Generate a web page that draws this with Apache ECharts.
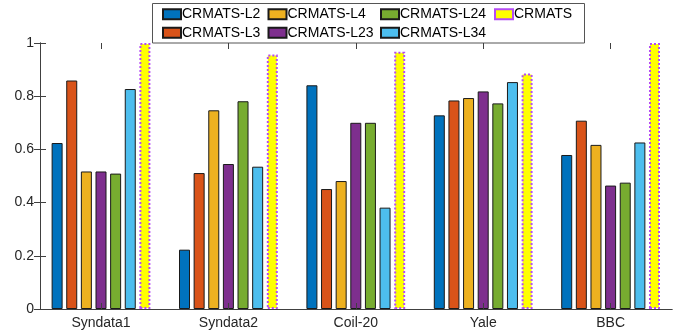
<!DOCTYPE html>
<html>
<head>
<meta charset="utf-8">
<script src="https://cdn.jsdelivr.net/npm/echarts@6/dist/echarts.min.js"></script>
<style>
html,body{margin:0;padding:0;background:#fff;}
#c{width:689px;height:335px;}
</style>
</head>
<body>
<div id="c"></div>
<script>
const categories = ['Syndata1', 'Syndata2', 'Coil-20', 'Yale', 'BBC'];
const seriesNames = ['CRMATS-L2', 'CRMATS-L3', 'CRMATS-L4', 'CRMATS-L23', 'CRMATS-L24', 'CRMATS-L34', 'CRMATS'];
const L2 = [0.624, 0.223, 0.841, 0.728, 0.579];
const L3 = [0.859, 0.511, 0.451, 0.784, 0.708];
const L4 = [0.517, 0.747, 0.481, 0.793, 0.617];
const L23 = [0.517, 0.545, 0.700, 0.818, 0.464];
const L24 = [0.509, 0.781, 0.700, 0.773, 0.475];
const L34 = [0.827, 0.535, 0.381, 0.853, 0.626];
const CRMATS = [1.0, 0.957, 0.967, 0.885, 1.0];
const yTicks = [0, 0.2, 0.4, 0.6, 0.8, 1];

const values = [L2, L3, L4, L23, L24, L34, CRMATS];
const colors = ['#0072BD', '#D95319', '#EDB120', '#7E2F8E', '#77AC30', '#4DBEEE', '#FFFF00'];
const font = 'Liberation Sans, Arial, Helvetica, sans-serif';
const textColor = '#262626';
const lineColor = '#404040';

const series = values.map((v, i) => {
  const last = i === values.length - 1;
  return {
    name: seriesNames[i],
    type: 'bar',
    xAxisIndex: 2,
    yAxisIndex: 2,
    data: v,
    barWidth: 11,
    barGap: '33%',
    animation: false,
    itemStyle: last ? {
      color: colors[i], borderColor: '#b44cf5', borderWidth: 2, borderType: 'dotted'
    } : {
      color: colors[i], borderColor: '#1a1a1a', borderWidth: 1
    },
    emphasis: { disabled: true }
  };
});

const legendCols = [
  { left: 162, data: ['CRMATS-L2', 'CRMATS-L3'] },
  { left: 267.5, data: ['CRMATS-L4', 'CRMATS-L23'] },
  { left: 380, data: ['CRMATS-L24', 'CRMATS-L34'] },
  { left: 494, data: ['CRMATS'] }
];
const legends = legendCols.map(c => ({
  orient: 'vertical',
  left: c.left,
  top: 7.3,
  padding: 0,
  itemWidth: 18,
  itemHeight: 10,
  itemGap: 4.5,
  icon: 'rect',
  selectedMode: false,
  data: c.data,
  textStyle: { fontSize: 14, fontFamily: font, color: '#000', lineHeight: 14, padding: [0, 0, 0, -4] }
}));

const chart = echarts.init(document.getElementById('c'), null, { renderer: 'canvas' });
chart.setOption({
  animation: false,
  backgroundColor: '#fff',
  grid: [
    { left: 40, right: 17, top: 43, bottom: 26 },
    { left: 37.3, right: 14.7, top: 43, bottom: 26 }
  ],
  graphic: [{
    type: 'rect', z: 3,
    shape: { x: 152.5, y: 3.5, width: 432, height: 39.5 },
    style: { fill: '#fff', stroke: '#555', lineWidth: 1 }
  }],
  legend: legends,
  xAxis: [
    { gridIndex: 0, type: 'value', min: 0, max: 1, position: 'bottom',
      axisLine: { show: true, lineStyle: { color: lineColor, width: 1 } },
      axisTick: { show: false }, axisLabel: { show: false }, splitLine: { show: false } },
    { gridIndex: 0, type: 'value', min: 0, max: 1, position: 'top',
      axisLine: { show: true, lineStyle: { color: lineColor, width: 1 } },
      axisTick: { show: false }, axisLabel: { show: false }, splitLine: { show: false } },
    { gridIndex: 1, type: 'category', data: categories, position: 'bottom', z: 5,
      axisLine: { show: false },
      axisTick: { show: true, inside: true, length: 6, alignWithLabel: true, lineStyle: { color: lineColor } },
      axisLabel: { fontSize: 14, fontFamily: font, color: textColor, margin: 7 },
      splitLine: { show: false } },
    { gridIndex: 1, type: 'category', data: categories, position: 'top', z: 5,
      axisLine: { show: false },
      axisTick: { show: true, inside: true, length: 6, alignWithLabel: true, lineStyle: { color: lineColor } },
      axisLabel: { show: false }, splitLine: { show: false } }
  ],
  yAxis: [
    { gridIndex: 0, type: 'value', min: yTicks[0], max: yTicks[yTicks.length - 1], interval: 0.2, position: 'left', z: 5,
      axisLine: { show: true, lineStyle: { color: lineColor, width: 1 } },
      axisTick: { show: true, inside: true, length: 6, lineStyle: { color: lineColor } },
      axisLabel: { fontSize: 14, fontFamily: font, color: textColor, margin: 6,
        formatter: v => String(+v.toFixed(1)) },
      splitLine: { show: false } },
    { gridIndex: 0, type: 'value', min: 0, max: 1, interval: 0.2, position: 'right', z: 5,
      axisLine: { show: true, lineStyle: { color: lineColor, width: 1 } },
      axisTick: { show: true, inside: true, length: 6, lineStyle: { color: lineColor } },
      axisLabel: { show: false }, splitLine: { show: false } },
    { gridIndex: 1, type: 'value', min: 0, max: 1, show: false, splitLine: { show: false } }
  ],
  series: series
});
</script>
</body>
</html>
